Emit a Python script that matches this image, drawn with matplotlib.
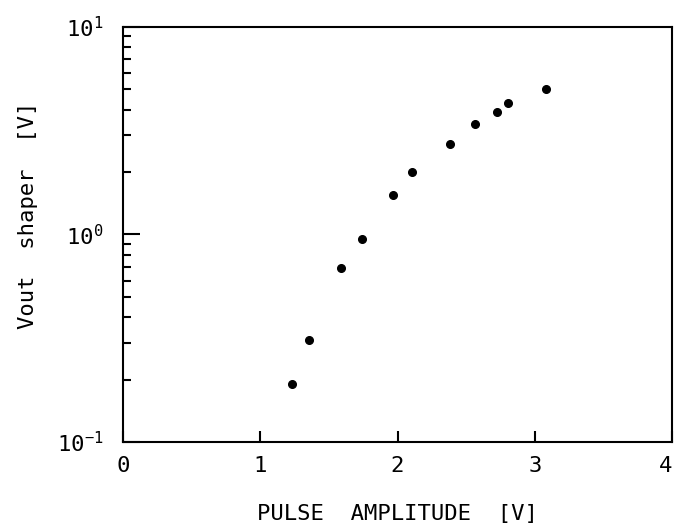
import matplotlib
matplotlib.use("Agg")
import matplotlib.pyplot as plt
from matplotlib.ticker import LogLocator, NullFormatter, FixedLocator

# pulse amplitude [V] vs shaper output [V]
pulse_amp = [1.23, 1.355, 1.59, 1.74, 1.97, 2.105, 2.385, 2.565, 2.725, 2.805, 3.08]
vout = [0.19, 0.31, 0.69, 0.95, 1.55, 2.01, 2.73, 3.40, 3.88, 4.29, 5.02]

x_ticks = [0, 1, 2, 3, 4]
x_tick_labels = ['0', '1', '2', '3', '4']
y_ticks = [0.1, 1, 10]
y_tick_labels = ['10$^{-1}$', '10$^{0}$', '10$^{1}$']

plt.rcParams['font.family'] = 'DejaVu Sans Mono'
plt.rcParams['mathtext.fontset'] = 'custom'
plt.rcParams['mathtext.rm'] = 'DejaVu Sans Mono'
plt.rcParams['mathtext.it'] = 'DejaVu Sans Mono'

fig = plt.figure(figsize=(6.75, 5.23), dpi=100)
ax = fig.add_axes([0.1822, 0.1549, 0.8134, 0.7935])

ax.plot(pulse_amp, vout, 'o', color='black', markersize=5.5)

ax.set_yscale('log')
ax.set_xlim(0, 4)
ax.set_ylim(0.1, 10)

ax.xaxis.set_major_locator(FixedLocator(x_ticks))
ax.set_xticklabels(x_tick_labels)
ax.yaxis.set_major_locator(FixedLocator(y_ticks))
ax.set_yticklabels(y_tick_labels)
ax.yaxis.set_minor_locator(LogLocator(base=10, subs=range(2, 10)))
ax.yaxis.set_minor_formatter(NullFormatter())

ax.tick_params(which='both', direction='in', top=False, right=False, width=1.5, labelsize=16)
ax.tick_params(axis='x', which='major', length=8, pad=10)
ax.tick_params(axis='y', which='major', length=12, pad=14)
ax.tick_params(axis='y', which='minor', length=6)

# last x label sits at the figure edge, keep it inside
ax.get_xticklabels()[-1].set_horizontalalignment('right')

for s in ax.spines.values():
    s.set_linewidth(1.5)

ax.set_xlabel('PULSE  AMPLITUDE  [V]', fontsize=16, labelpad=20)
ax.set_ylabel('Vout  shaper  [V]', fontsize=16)
ax.yaxis.set_label_coords(-0.155, 0.545)

fig.savefig('out.png', dpi=100)
